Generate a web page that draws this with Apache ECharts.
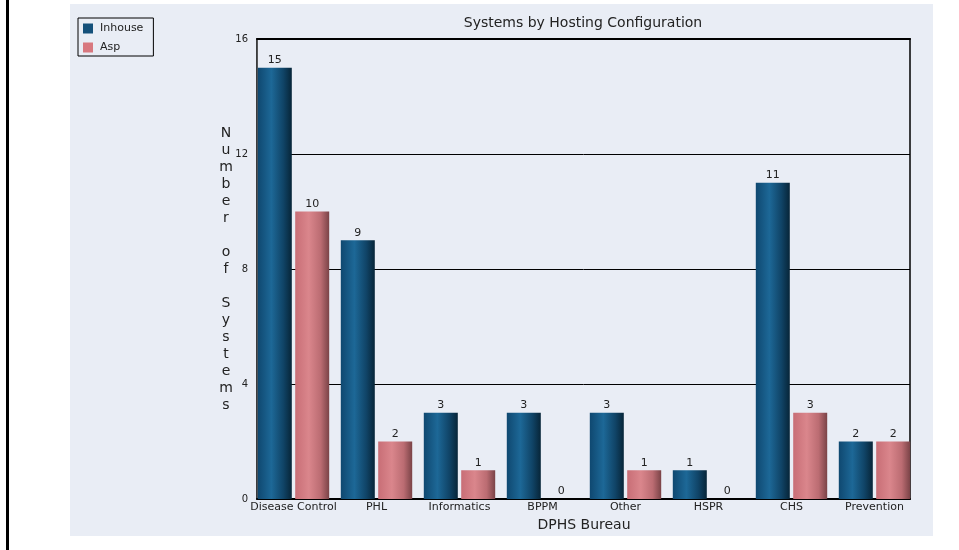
<!DOCTYPE html>
<html>
<head>
<meta charset="utf-8">
<script src="https://cdn.jsdelivr.net/npm/echarts@6/dist/echarts.min.js"></script>
<style>
html,body{margin:0;padding:0;background:#fff;}
#chart{width:959px;height:550px;}
</style>
</head>
<body>
<div id="chart"></div>
<script>
const categories = ['Disease Control', 'PHL', 'Informatics', 'BPPM', 'Other', 'HSPR', 'CHS', 'Prevention'];
const inhouseValues = [15, 9, 3, 3, 3, 1, 11, 2];
const aspValues = [10, 2, 1, 0, 1, 0, 3, 2];
const yTicks = [0, 4, 8, 12, 16];
const titleText = 'Systems by Hosting Configuration';
const xAxisName = 'DPHS Bureau';
const yAxisName = 'Number of Systems';

const FONT = 'DejaVu Sans';
const yName = yAxisName.split(' ').map(w => w.split('').join('\n')).join('\n\n');

const chart = echarts.init(document.getElementById('chart'));

const blueGrad = new echarts.graphic.LinearGradient(0, 0, 1, 0, [
  {offset: 0, color: '#0f4870'},
  {offset: 0.4, color: '#1d6897'},
  {offset: 0.75, color: '#104467'},
  {offset: 1, color: '#072538'}
]);
const pinkGrad = new echarts.graphic.LinearGradient(0, 0, 1, 0, [
  {offset: 0, color: '#c86e76'},
  {offset: 0.4, color: '#da868c'},
  {offset: 0.75, color: '#bb6c72'},
  {offset: 1, color: '#7a4347'}
]);

const labelCfg = {
  show: true, position: 'top', distance: 2,
  fontSize: 11, fontFamily: FONT, color: '#222'
};

chart.setOption({
  animation: false,
  backgroundColor: '#ffffff',
  textStyle: {fontFamily: FONT},
  graphic: [
    {type: 'rect', z: -100, silent: true, shape: {x: 70, y: 4, width: 863, height: 532}, style: {fill: '#e9edf5'}},
    {type: 'rect', z: -100, silent: true, shape: {x: 6, y: 0, width: 3, height: 550}, style: {fill: '#000'}}
  ],
  title: {
    text: titleText,
    left: 583, top: 16, textAlign: 'center', padding: 0,
    textStyle: {fontSize: 14, fontWeight: 'normal', color: '#222', fontFamily: FONT}
  },
  legend: {
    orient: 'vertical', left: 78, top: 18,
    padding: [5, 10, 3, 5], itemGap: 8, itemWidth: 10, itemHeight: 10,
    borderColor: '#000', borderWidth: 1, backgroundColor: '#e9edf5',
    icon: 'rect',
    textStyle: {fontSize: 11, fontFamily: FONT, color: '#222', padding: [0, 0, 0, 2]},
    data: [
      {name: 'Inhouse', itemStyle: {color: '#14507a'}},
      {name: 'Asp', itemStyle: {color: '#d8787f'}}
    ]
  },
  grid: [
    {left: 257, right: 49, top: 39, bottom: 51, show: true, borderColor: '#000', borderWidth: 1.5, backgroundColor: 'transparent'},
    {left: 252, right: 43, top: 39, bottom: 51}
  ],
  xAxis: [
    {type: 'category', gridIndex: 0, data: categories, position: 'bottom',
     axisLine: {show: true, lineStyle: {color: '#000', width: 2}}, axisTick: {show: false}, axisLabel: {show: false}, splitLine: {show: false}},
    {type: 'category', gridIndex: 0, data: categories, position: 'top',
     axisLine: {show: true, lineStyle: {color: '#000', width: 2}}, axisTick: {show: false}, axisLabel: {show: false}, splitLine: {show: false}},
    {type: 'category', gridIndex: 1, data: categories,
     axisLine: {show: false}, axisTick: {show: false},
     axisLabel: {fontSize: 11, fontFamily: FONT, color: '#222', margin: 3, interval: 0},
     name: xAxisName, nameLocation: 'middle', nameGap: 19, nameMoveOverlap: false,
     nameTextStyle: {fontSize: 14, fontFamily: FONT, color: '#222'}}
  ],
  yAxis: [
    {type: 'value', gridIndex: 0, min: yTicks[0], max: yTicks[yTicks.length - 1], interval: 4,
     axisLine: {show: true, lineStyle: {color: '#555', width: 1}},
     axisTick: {show: false},
     axisLabel: {fontSize: 10, fontFamily: FONT, color: '#222', margin: 9},
     splitLine: {show: true, lineStyle: {color: '#000', width: 1}},
     name: yName, nameLocation: 'middle', nameRotate: 0, nameGap: 31, nameMoveOverlap: false,
     nameTextStyle: {fontSize: 14, fontFamily: FONT, color: '#222', align: 'center', lineHeight: 17}},
    {type: 'value', gridIndex: 1, min: yTicks[0], max: yTicks[yTicks.length - 1], show: false}
  ],
  series: [
    {name: 'Inhouse', type: 'bar', xAxisIndex: 2, yAxisIndex: 1, data: inhouseValues,
     barWidth: 34, barGap: '10%', itemStyle: {color: blueGrad}, label: labelCfg},
    {name: 'Asp', type: 'bar', xAxisIndex: 2, yAxisIndex: 1, data: aspValues,
     barWidth: 34, barGap: '10%', itemStyle: {color: pinkGrad}, label: labelCfg}
  ]
});
</script>
</body>
</html>
